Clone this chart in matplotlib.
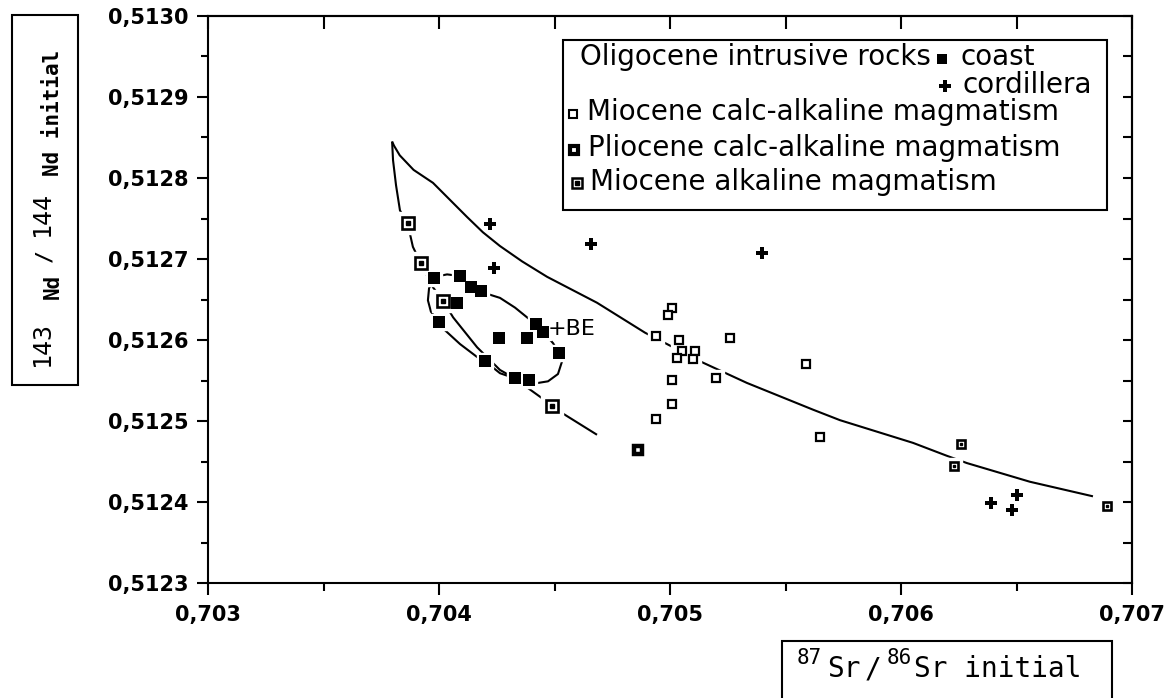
import numpy as np
import matplotlib
matplotlib.use("Agg")
import matplotlib.pyplot as plt
from matplotlib.patches import Rectangle
from matplotlib.ticker import MultipleLocator, FuncFormatter

plt.rcParams['font.family'] = ['DejaVu Sans']

# Oligocene intrusive rocks, coast (filled squares)
coast_x = [0.70398, 0.70409, 0.70414, 0.70418, 0.70408, 0.70400, 0.70426,
           0.70438, 0.70442, 0.70445, 0.70452, 0.70420, 0.70433, 0.70439]
coast_y = [0.512677, 0.512679, 0.512666, 0.512660, 0.512646, 0.512622, 0.512602,
           0.512602, 0.512620, 0.512610, 0.512584, 0.512574, 0.512553, 0.512551]

# Oligocene intrusive rocks, cordillera (crosses)
cord_x = [0.70422, 0.70424, 0.70466, 0.70540, 0.70639, 0.70650, 0.70648]
cord_y = [0.512743, 0.512689, 0.512718, 0.512708, 0.512399, 0.512409, 0.512390]

# Miocene calc-alkaline magmatism (open squares)
mio_ca_x = [0.70501, 0.70499, 0.70494, 0.70504, 0.70526, 0.70505, 0.70511, 0.70503,
            0.70510, 0.70520, 0.70501, 0.70501, 0.70494, 0.70559, 0.70565]
mio_ca_y = [0.512639, 0.512631, 0.512605, 0.512600, 0.512602, 0.512586, 0.512586, 0.512578,
            0.512577, 0.512553, 0.512551, 0.512521, 0.512502, 0.512570, 0.512480]
# same symbol, drawn with a centre dot
mio_ca_dot_x = [0.70626, 0.70623, 0.70689]
mio_ca_dot_y = [0.512471, 0.512444, 0.512395]

# Pliocene calc-alkaline magmatism
plio_x = [0.70486]
plio_y = [0.512464]

# Miocene alkaline magmatism
alk_x = [0.703864, 0.703921, 0.704019, 0.704488]
alk_y = [0.512744, 0.512695, 0.512648, 0.512519]

# mixing curves
upper_x = [0.703797, 0.703805, 0.703830, 0.703890, 0.703974, 0.704121, 0.704190, 0.704264,
           0.704360, 0.704468, 0.704684, 0.704892, 0.705143, 0.705333, 0.705619, 0.705736,
           0.706052, 0.706199, 0.706286, 0.706558, 0.706831]
upper_y = [0.512845, 0.512840, 0.512828, 0.512810, 0.512794, 0.512752, 0.512733, 0.512716,
           0.512697, 0.512678, 0.512646, 0.512609, 0.512572, 0.512547, 0.512514, 0.512501,
           0.512473, 0.512457, 0.512448, 0.512425, 0.512407]

lower_x = [0.703797, 0.703801, 0.703814, 0.703831, 0.703864, 0.703887, 0.703921, 0.703974,
           0.704019, 0.704061, 0.704165, 0.704264, 0.704320, 0.704437, 0.704488, 0.704532, 0.704684]
lower_y = [0.512845, 0.512822, 0.512791, 0.512760, 0.512744, 0.512715, 0.512695, 0.512665,
           0.512648, 0.512628, 0.512591, 0.512563, 0.512554, 0.512530, 0.512519, 0.512510, 0.512483]

# loop around the coast samples
loop_x = [0.703983, 0.704035, 0.704091, 0.704139, 0.704186, 0.704264, 0.704329, 0.704381,
          0.704416, 0.704459, 0.704494, 0.704519, 0.704532, 0.704515, 0.704472, 0.704429,
          0.704390, 0.704325, 0.704264, 0.704203, 0.704165, 0.704091, 0.704026, 0.704000,
          0.703965, 0.703952, 0.703957, 0.703983]
loop_y = [0.512678, 0.512681, 0.512679, 0.512665, 0.512659, 0.512652, 0.512640, 0.512628,
          0.512620, 0.512607, 0.512596, 0.512584, 0.512573, 0.512558, 0.512549, 0.512547,
          0.512549, 0.512553, 0.512559, 0.512573, 0.512579, 0.512595, 0.512612, 0.512622,
          0.512635, 0.512649, 0.512664, 0.512678]

x_ticks = [0.703, 0.704, 0.705, 0.706, 0.707]
y_ticks = [0.5123, 0.5124, 0.5125, 0.5126, 0.5127, 0.5128, 0.5129, 0.5130]

W, H = 1170, 698
AX_L, AX_R, AX_T, AX_B = 208, 1132, 16, 583


def fig_xy(x, y):
    return x / W, 1 - y / H


def ax_xy(x, y):
    return (x - AX_L) / (AX_R - AX_L), (AX_B - y) / (AX_B - AX_T)


fig = plt.figure(figsize=(W / 100, H / 100), dpi=100)
ax = fig.add_axes([AX_L / W, 1 - AX_B / H, (AX_R - AX_L) / W, (AX_B - AX_T) / H])

# curves
for cx, cy in [(upper_x, upper_y), (lower_x, lower_y), (loop_x, loop_y)]:
    ax.plot(cx, cy, color='black', lw=1.5, zorder=2, solid_capstyle='butt',
            solid_joinstyle='round')

# marker styles: (x, y, marker, size, face, edge, edge width, halo size)
groups = [
    (coast_x, coast_y, 's', 8, 'black', 'black', 0, 12),
    (cord_x, cord_y, 'P', 9, 'black', 'black', 0, 9),
    (mio_ca_x, mio_ca_y, 's', 5.8, 'white', 'black', 1.6, 12),
    (mio_ca_dot_x, mio_ca_dot_y, 's', 5.6, 'white', 'black', 1.9, 12),
    (plio_x, plio_y, 's', 6.2, 'white', 'black', 3.2, 14),
    (alk_x, alk_y, 's', 8.5, 'white', 'black', 1.9, 16.5),
]
for gx, gy, m, s, fc, ec, ew, hs in groups:
    ax.plot(gx, gy, ls='none', marker=m, ms=hs, mfc='white', mec='white', zorder=3)
for gx, gy, m, s, fc, ec, ew, hs in groups:
    ax.plot(gx, gy, ls='none', marker=m, ms=s, mfc=fc, mec=ec, mew=ew, zorder=4)
ax.plot(mio_ca_dot_x, mio_ca_dot_y, ls='none', marker='s', ms=1.6, color='black', zorder=5)
ax.plot(alk_x, alk_y, ls='none', marker='s', ms=2.6, color='black', zorder=5)

ax.text(0.704472, 0.5123 + (AX_B - 335) / 810000, '+BE', fontsize=16,
        ha='left', va='baseline', zorder=6)

# axes
ax.set_xlim(0.703, 0.707)
ax.set_ylim(0.5123, 0.5130)
ax.set_xticks(x_ticks)
ax.set_yticks(y_ticks)
ax.xaxis.set_minor_locator(MultipleLocator(0.0005))
ax.yaxis.set_minor_locator(MultipleLocator(0.00005))
ax.xaxis.set_major_formatter(FuncFormatter(lambda v, p: f"{v:.3f}".replace('.', ',')))
ax.yaxis.set_major_formatter(FuncFormatter(lambda v, p: f"{v:.4f}".replace('.', ',')))
ax.tick_params(axis='x', which='major', direction='out', length=8.6, width=1.5,
               pad=7, labelsize=15)
ax.tick_params(axis='x', which='minor', direction='out', length=5.8, width=1.5)
ax.tick_params(axis='y', which='major', direction='out', length=7.7, width=1.5,
               pad=6, labelsize=15)
ax.tick_params(axis='y', which='minor', direction='out', length=4.8, width=1.5)
for lab in ax.get_xticklabels() + ax.get_yticklabels():
    lab.set_fontweight('bold')
for sp in ax.spines.values():
    sp.set_linewidth(1.5)

top = ax.secondary_xaxis('top')
top.xaxis.set_major_locator(MultipleLocator(0.0005))
top.tick_params(axis='x', direction='in', length=9.4, width=1.5, labeltop=False)
top.spines['top'].set_linewidth(1.5)
right = ax.secondary_yaxis('right')
right.yaxis.set_major_locator(MultipleLocator(0.00005))
right.tick_params(axis='y', direction='in', length=6.5, width=1.5, labelright=False)
right.spines['right'].set_linewidth(1.5)

# legend drawn by hand
bx0, by0 = ax_xy(563, 210)
bx1, by1 = ax_xy(1107, 40)
ax.add_patch(Rectangle((bx0, by0), bx1 - bx0, by1 - by0, transform=ax.transAxes,
                       fill=False, ec='black', lw=1.5, clip_on=False, zorder=6))
legend_rows = [
    (580, 65, 'Oligocene intrusive rocks'),
    (960, 65, 'coast'),
    (962, 93, 'cordillera'),
    (587, 120, 'Miocene calc-alkaline magmatism'),
    (588, 156, 'Pliocene calc-alkaline magmatism'),
    (590, 190, 'Miocene alkaline magmatism'),
]
for lx, ly, txt in legend_rows:
    ax.text(*ax_xy(lx, ly), txt, transform=ax.transAxes, fontsize=20,
            ha='left', va='baseline', zorder=7)
legend_marks = [
    (942, 59, 's', 7, 'black', 'black', 0),
    (945, 86, 'P', 8, 'black', 'black', 0),
    (573, 114, 's', 5.2, 'white', 'black', 1.5),
    (574, 150, 's', 5.6, 'white', 'black', 3.0),
    (577, 183, 's', 7.5, 'white', 'black', 1.8),
]
for mx, my, m, s, fc, ec, ew in legend_marks:
    ax.plot(*ax_xy(mx, my), marker=m, ms=s, mfc=fc, mec=ec, mew=ew,
            transform=ax.transAxes, clip_on=False, zorder=7)
ax.plot(*ax_xy(577, 183), marker='s', ms=2.4, color='black',
        transform=ax.transAxes, clip_on=False, zorder=8)

# y axis title in a box (rotated pieces, anchored at their lower start)
fig.add_artist(Rectangle(fig_xy(12, 385), 66 / W, 370 / H, transform=fig.transFigure,
                         fill=False, ec='black', lw=1.5))
ylab_parts = [
    (49, 366, '143', 18, 'normal'),
    (59, 299, 'Nd', 15, 'bold'),
    (50, 262, '/', 15, 'bold'),
    (49, 236, '144', 18, 'normal'),
    (59, 176, 'Nd initial', 15, 'bold'),
]
for tx, ty, txt, fs, fw in ylab_parts:
    fig.text(*fig_xy(tx, ty), txt, fontsize=fs, fontweight=fw, family='DejaVu Sans Mono',
             rotation=90, rotation_mode='anchor', ha='left', va='baseline')

# x axis title in a box
fig.add_artist(Rectangle(fig_xy(782, 710), 330 / W, 69 / H, transform=fig.transFigure,
                         fill=False, ec='black', lw=1.5, clip_on=False))
xlab_parts = [
    (797, 664, '87', 15),
    (827, 677, 'Sr', 20),
    (865, 677, '/', 20),
    (887, 664, '86', 15),
    (914, 677, 'Sr initial', 20),
]
for tx, ty, txt, fs in xlab_parts:
    fig.text(*fig_xy(tx, ty), txt, fontsize=fs, family='DejaVu Sans Mono',
             ha='left', va='baseline')

fig.savefig('out.png', dpi=100)
